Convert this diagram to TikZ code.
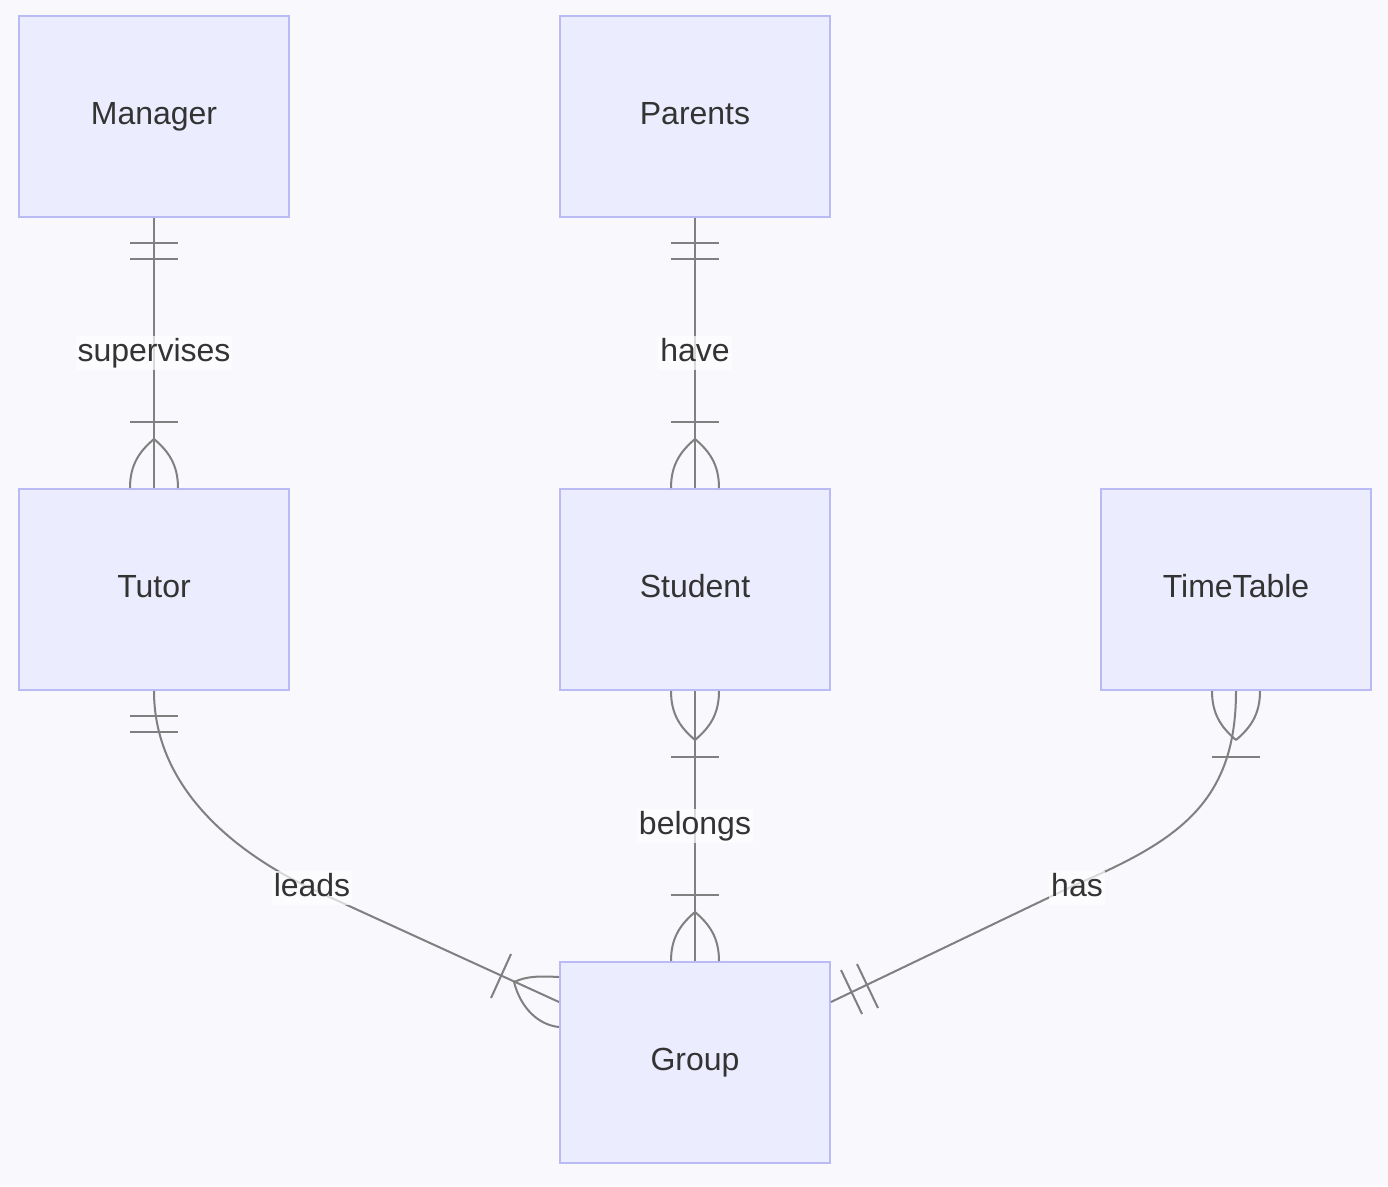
\documentclass[tikz,border=0pt]{standalone}
\usepackage{fontspec}
\setmainfont{Liberation Sans}
\usetikzlibrary{calc}
\definecolor{bgc}{RGB}{248,248,253}
\definecolor{boxfill}{RGB}{236,236,255}
\definecolor{boxline}{RGB}{186,186,245}
\definecolor{relc}{RGB}{128,128,128}
\definecolor{txtc}{RGB}{51,51,51}
\tikzset{
  entity/.style={draw=boxline, fill=boxfill, line width=2pt, minimum width=270pt, minimum height=201pt,
    inner sep=0pt, text=txtc, text height=23pt, text depth=6.5pt, font=\fontsize{32}{36}\selectfont},
  rel/.style={draw=relc, line width=2pt},
  lbl/.style={fill=white, fill opacity=0.7, text opacity=1, text=txtc, inner sep=2pt,
    text height=23pt, text depth=6.5pt, font=\fontsize{32}{36}\selectfont},
  crowtop/.pic={
    \draw[rel] (0,-49) .. controls (-14,-37) and (-24,-24) .. (-24,0);
    \draw[rel] (0,-49) .. controls (14,-37) and (24,-24) .. (24,0);
    \draw[rel] (-24,-66) -- (24,-66);
  },
  crowbottom/.pic={
    \draw[rel] (0,49) .. controls (-14,37) and (-24,24) .. (-24,0);
    \draw[rel] (0,49) .. controls (14,37) and (24,24) .. (24,0);
    \draw[rel] (-24,66) -- (24,66);
  },
  twobarsdown/.pic={
    \draw[rel] (-24,25) -- (24,25);
    \draw[rel] (-24,41) -- (24,41);
  }
}
\begin{document}
\begin{tikzpicture}[x=1pt,y=-1pt]
\fill[bgc] (0,0) rectangle (1388,1186);
\useasboundingbox (0,0) rectangle (1388,1186);

\node[entity] (manager) at (154,116) {Manager};
\node[entity] (parents) at (695,116) {Parents};
\node[entity] (tutor) at (154,589.5) {Tutor};
\node[entity] (student) at (695,589.5) {Student};
\node[entity] (timetable) at (1236,589.5) {TimeTable};
\node[entity] (group) at (695,1062.5) {Group};

% Manager -- Tutor
\draw[rel] (manager.south) -- (tutor.north);
\pic at (manager.south) {twobarsdown};
\pic at (tutor.north) {crowtop};
\node[lbl] (lsup) at (154,353) {supervises};

% Parents -- Student
\draw[rel] (parents.south) -- (student.north);
\pic at (parents.south) {twobarsdown};
\pic at (student.north) {crowtop};
\node[lbl] (lhave) at (695,353) {have};

% Student -- Group
\draw[rel] (student.south) -- (group.north);
\pic at (student.south) {crowbottom};
\pic at (group.north) {crowtop};
\node[lbl] (lbel) at (695,826) {belongs};

% Tutor -- Group
\coordinate (gl) at ($(group.north west)+(0,41)$);
\draw[rel] (tutor.south) .. controls ($(tutor.south)+(0,100)$) and (240,855) .. (312,889) -- (gl);
\pic at (tutor.south) {twobarsdown};
\draw[rel] ($(gl)+(-48,-48)$) -- ($(gl)+(-68,-4)$);
\draw[rel] ($(gl)+(-45,-20)$) .. controls ($(gl)+(-32,-26)$) and ($(gl)+(-20,-26)$) .. ($(gl)+(0,-25)$);
\draw[rel] ($(gl)+(-45,-20)$) .. controls ($(gl)+(-38,7)$) and ($(gl)+(-20,23)$) .. ($(gl)+(0,25)$);
\node[lbl] (llead) at (312,888) {leads};

% TimeTable -- Group
\coordinate (gr) at ($(group.north east)+(0,41)$);
\draw[rel] (timetable.south) .. controls ($(timetable.south)+(0,110)$) and (1180,840) .. (1077,884) -- (gr);
\pic at (timetable.south) {crowbottom};
\draw[rel] ($(gr)+(10,-32)$) -- ($(gr)+(31,12)$);
\draw[rel] ($(gr)+(26,-38)$) -- ($(gr)+(47,6)$);
\node[lbl] (lhas) at (1077,888) {has};
\end{tikzpicture}
\end{document}
